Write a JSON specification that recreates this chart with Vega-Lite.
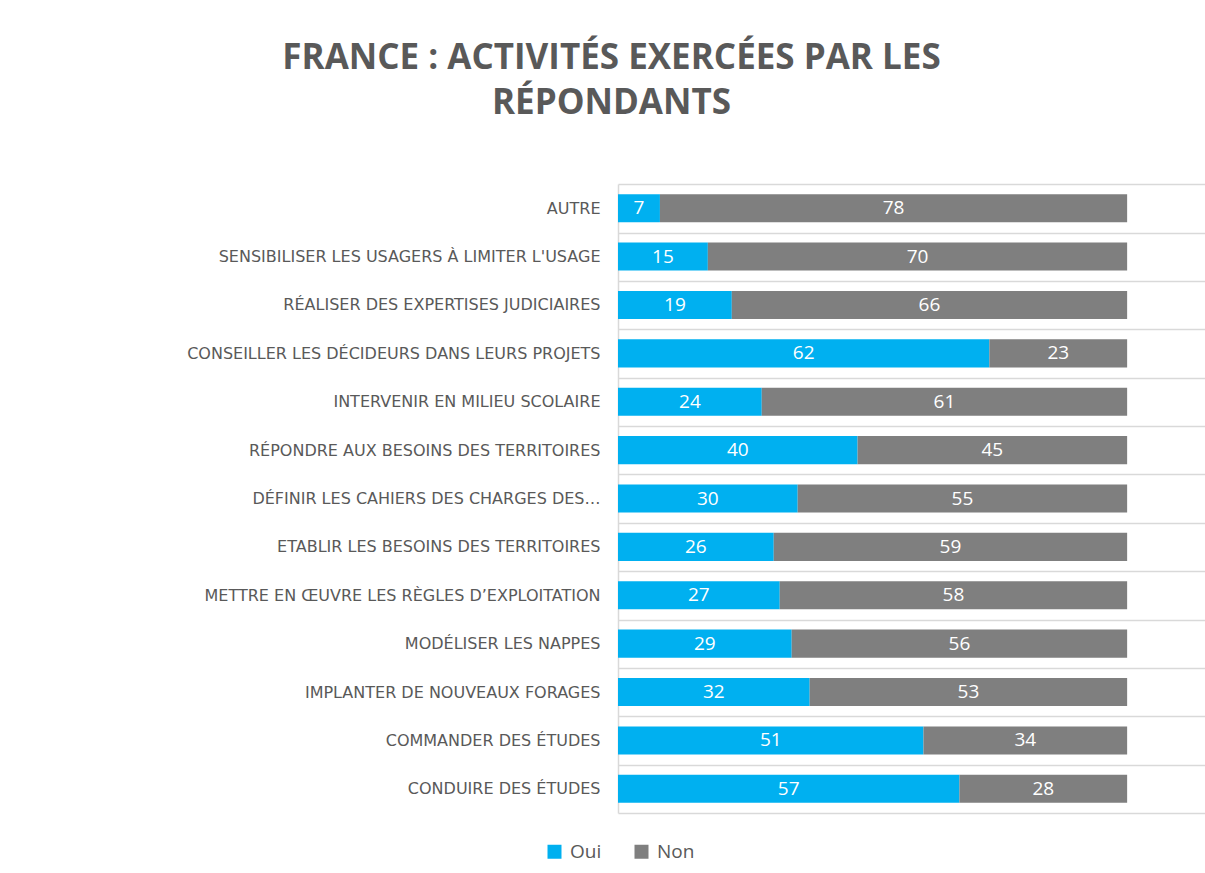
{
  "$schema": "https://vega.github.io/schema/vega-lite/v6.json",
  "autosize": "none",
  "width": 587,
  "height": 629,
  "padding": {"left": 618, "top": 184, "right": 0, "bottom": 60},
  "background": "white",
  "title": {
    "text": ["FRANCE : ACTIVITÉS EXERCÉES PAR LES", "RÉPONDANTS"],
    "font": "Open Sans",
    "fontSize": 35,
    "fontWeight": "bold",
    "color": "#595959",
    "lineHeight": 45,
    "anchor": "middle",
    "frame": "group",
    "dx": -300,
    "offset": 63
  },
  "config": {
    "view": {"stroke": null},
    "axis": {"domainColor": "#d9d9d9", "domainWidth": 1.5, "gridColor": "#d9d9d9", "gridWidth": 1.5}
  },
  "data": {
    "values": [
      {"activite": "AUTRE", "reponse": "Oui", "valeur": 7},
      {"activite": "AUTRE", "reponse": "Non", "valeur": 78},
      {"activite": "SENSIBILISER LES USAGERS À LIMITER L'USAGE", "reponse": "Oui", "valeur": 15},
      {"activite": "SENSIBILISER LES USAGERS À LIMITER L'USAGE", "reponse": "Non", "valeur": 70},
      {"activite": "RÉALISER DES EXPERTISES JUDICIAIRES", "reponse": "Oui", "valeur": 19},
      {"activite": "RÉALISER DES EXPERTISES JUDICIAIRES", "reponse": "Non", "valeur": 66},
      {"activite": "CONSEILLER LES DÉCIDEURS DANS LEURS PROJETS", "reponse": "Oui", "valeur": 62},
      {"activite": "CONSEILLER LES DÉCIDEURS DANS LEURS PROJETS", "reponse": "Non", "valeur": 23},
      {"activite": "INTERVENIR EN MILIEU SCOLAIRE", "reponse": "Oui", "valeur": 24},
      {"activite": "INTERVENIR EN MILIEU SCOLAIRE", "reponse": "Non", "valeur": 61},
      {"activite": "RÉPONDRE AUX BESOINS DES TERRITOIRES", "reponse": "Oui", "valeur": 40},
      {"activite": "RÉPONDRE AUX BESOINS DES TERRITOIRES", "reponse": "Non", "valeur": 45},
      {"activite": "DÉFINIR LES CAHIERS DES CHARGES DES…", "reponse": "Oui", "valeur": 30},
      {"activite": "DÉFINIR LES CAHIERS DES CHARGES DES…", "reponse": "Non", "valeur": 55},
      {"activite": "ETABLIR LES BESOINS DES TERRITOIRES", "reponse": "Oui", "valeur": 26},
      {"activite": "ETABLIR LES BESOINS DES TERRITOIRES", "reponse": "Non", "valeur": 59},
      {"activite": "METTRE EN ŒUVRE LES RÈGLES D’EXPLOITATION", "reponse": "Oui", "valeur": 27},
      {"activite": "METTRE EN ŒUVRE LES RÈGLES D’EXPLOITATION", "reponse": "Non", "valeur": 58},
      {"activite": "MODÉLISER LES NAPPES", "reponse": "Oui", "valeur": 29},
      {"activite": "MODÉLISER LES NAPPES", "reponse": "Non", "valeur": 56},
      {"activite": "IMPLANTER DE NOUVEAUX FORAGES", "reponse": "Oui", "valeur": 32},
      {"activite": "IMPLANTER DE NOUVEAUX FORAGES", "reponse": "Non", "valeur": 53},
      {"activite": "COMMANDER DES ÉTUDES", "reponse": "Oui", "valeur": 51},
      {"activite": "COMMANDER DES ÉTUDES", "reponse": "Non", "valeur": 34},
      {"activite": "CONDUIRE DES ÉTUDES", "reponse": "Oui", "valeur": 57},
      {"activite": "CONDUIRE DES ÉTUDES", "reponse": "Non", "valeur": 28}
    ]
  },
  "transform": [
    {"calculate": "datum.reponse === 'Oui' ? 0 : 1", "as": "ordre"},
    {"stack": "valeur", "groupby": ["activite"], "sort": [{"field": "ordre", "order": "ascending"}], "as": ["debut", "fin"]},
    {"calculate": "(datum.debut + datum.fin) / 2", "as": "milieu"}
  ],
  "encoding": {
    "y": {
      "field": "activite",
      "type": "nominal",
      "sort": [
        "AUTRE",
        "SENSIBILISER LES USAGERS À LIMITER L'USAGE",
        "RÉALISER DES EXPERTISES JUDICIAIRES",
        "CONSEILLER LES DÉCIDEURS DANS LEURS PROJETS",
        "INTERVENIR EN MILIEU SCOLAIRE",
        "RÉPONDRE AUX BESOINS DES TERRITOIRES",
        "DÉFINIR LES CAHIERS DES CHARGES DES…",
        "ETABLIR LES BESOINS DES TERRITOIRES",
        "METTRE EN ŒUVRE LES RÈGLES D’EXPLOITATION",
        "MODÉLISER LES NAPPES",
        "IMPLANTER DE NOUVEAUX FORAGES",
        "COMMANDER DES ÉTUDES",
        "CONDUIRE DES ÉTUDES"
      ],
      "scale": {"paddingInner": 0.42, "paddingOuter": 0.21},
      "axis": {
        "title": null,
        "ticks": false,
        "grid": true,
        "bandPosition": 0,
        "tickOffset": -10,
        "labelOffset": 10,
        "labelFont": "DejaVu Sans",
        "labelFontSize": 16,
        "labelColor": "#595959",
        "labelPadding": 18,
        "labelLimit": 0,
        "domain": true
      }
    }
  },
  "layer": [
    {
      "mark": {"type": "bar"},
      "encoding": {
        "x": {
          "field": "debut",
          "type": "quantitative",
          "scale": {"domain": [0, 98], "nice": false},
          "axis": {"title": null, "labels": false, "ticks": false, "grid": false, "domain": true}
        },
        "x2": {"field": "fin"},
        "color": {
          "field": "reponse",
          "type": "nominal",
          "scale": {"domain": ["Oui", "Non"], "range": ["#00B0F0", "#7F7F7F"]},
          "legend": {
            "title": null,
            "orient": "none",
            "direction": "horizontal",
            "legendX": -73,
            "legendY": 658,
            "symbolType": "square",
            "symbolSize": 196,
            "symbolStrokeWidth": 0,
            "labelFont": "Open Sans",
            "labelFontSize": 19,
            "labelColor": "#595959",
            "labelOffset": 6,
            "columnPadding": 30
          }
        }
      }
    },
    {
      "mark": {"type": "text", "color": "white", "font": "Open Sans", "fontSize": 19, "baseline": "middle", "align": "center"},
      "encoding": {
        "x": {"field": "milieu", "type": "quantitative"},
        "text": {"field": "valeur", "type": "quantitative"}
      }
    }
  ]
}
